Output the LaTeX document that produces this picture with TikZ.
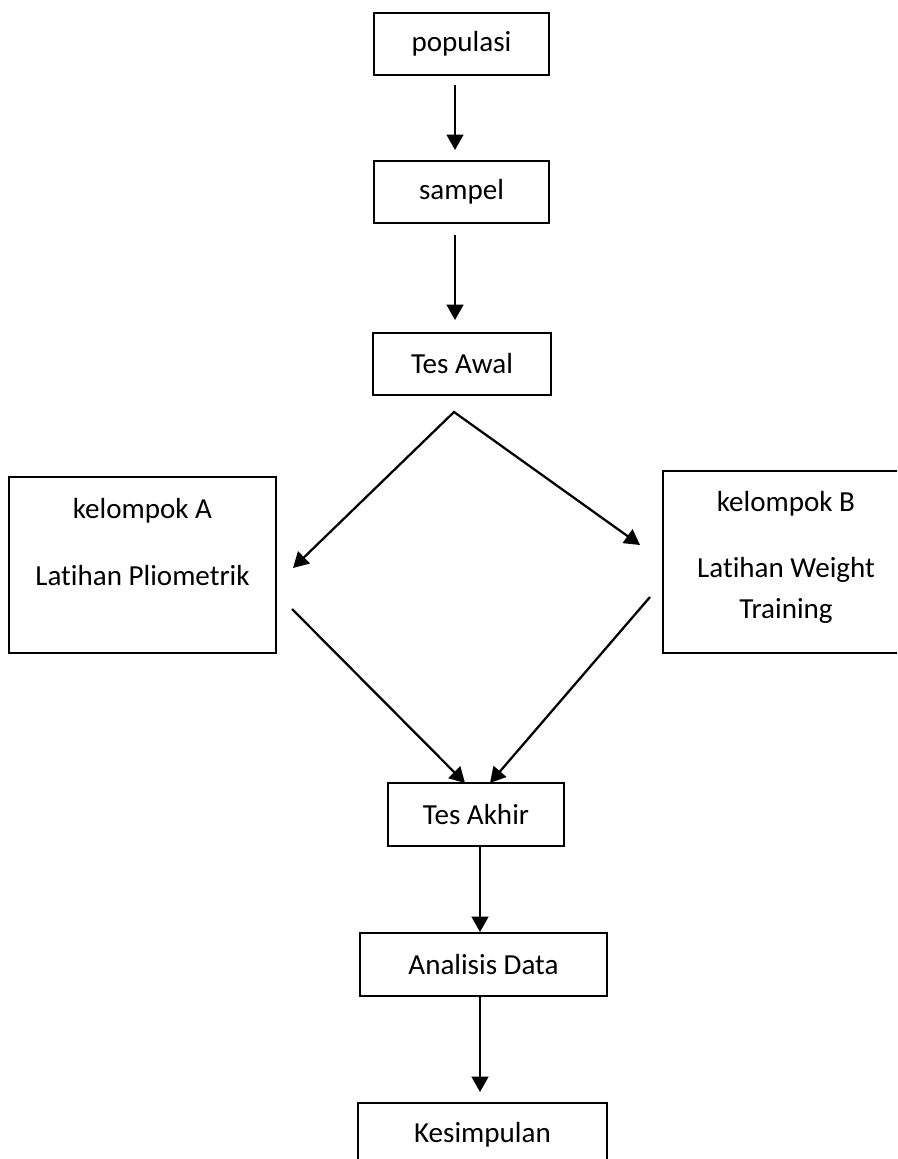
\documentclass[tikz,border=0pt]{standalone}
\usepackage{fontspec}
\setmainfont{Carlito}[Ligatures=CommonOff]
\usetikzlibrary{arrows.meta}
\begin{document}
\begin{tikzpicture}[x=0.75pt,y=-0.75pt,
  every node/.style={font=\fontsize{21.8pt}{26pt}\selectfont, inner sep=0pt},
  box/.style={draw, line width=1.7pt, rectangle},
  lbl/.style={anchor=base},
  arr/.style={line width=1.7pt, -{Triangle[length=11.5pt,width=12.5pt]}},
  darr/.style={line width=1.7pt, {Triangle[length=11.5pt,width=12.5pt]}-{Triangle[length=11.5pt,width=12.5pt]}}]
\clip (0,0) rectangle (897,1159);
\fill[white] (0,0) rectangle (897,1159);
% boxes
\node[box, minimum width=131.25pt, minimum height=46.5pt] (pop) at (461.5,44) {populasi};
\node[box, minimum width=131.25pt, minimum height=46.5pt] (samp) at (461.5,192) {sampel};
\node[box, minimum width=133.5pt, minimum height=46.5pt] (awal) at (462,364) {Tes Awal};
\node[box, minimum width=200.25pt, minimum height=132pt] (ka) at (142.5,565) {};
\node[lbl] (kaa) at (142.5,518) {kelompok A};
\node[lbl] (kab) at (142.5,585) {Lat\kern0pt ihan Pliometrik};
\node[box, minimum width=184.5pt, minimum height=136.5pt] (kb) at (786,562) {};
\node[lbl] (kba) at (786,511) {kelompok B};
\node[lbl] (kbb) at (786,577) {Lat\kern0pt ihan Weight};
\node[lbl] (kbc) at (786,618) {Training};
\node[box, minimum width=132pt, minimum height=47.25pt] (akhir) at (476,814.5) {Tes Akhir};
\node[box, minimum width=185.25pt, minimum height=47.25pt] (anal) at (483.5,964.5) {Analisis Data};
\node[box, minimum width=186.75pt, minimum height=47.25pt] (kes) at (482.5,1134.5) {Kesimpulan};
% connector ends
\coordinate (p1) at (455,85);
\coordinate (p2) at (455,150);
\coordinate (s1) at (455,235);
\coordinate (s2) at (455,320);
\coordinate (ap) at (454,412);
\coordinate (tl) at (293,568);
\coordinate (tr) at (640,545);
\coordinate (a1) at (292,609);
\coordinate (a2) at (465,783);
\coordinate (b1) at (650,597);
\coordinate (b2) at (490,783);
\coordinate (k1) at (480,846);
\coordinate (k2) at (480,932);
\coordinate (d1) at (480,996);
\coordinate (d2) at (480,1092);
% connectors
\draw[arr] (p1) -- (p2);
\draw[arr] (s1) -- (s2);
\draw[darr] (tl) -- (ap) -- (tr);
\draw[arr] (a1) -- (a2);
\draw[arr] (b1) -- (b2);
\draw[arr] (k1) -- (k2);
\draw[arr] (d1) -- (d2);
\end{tikzpicture}
\end{document}
